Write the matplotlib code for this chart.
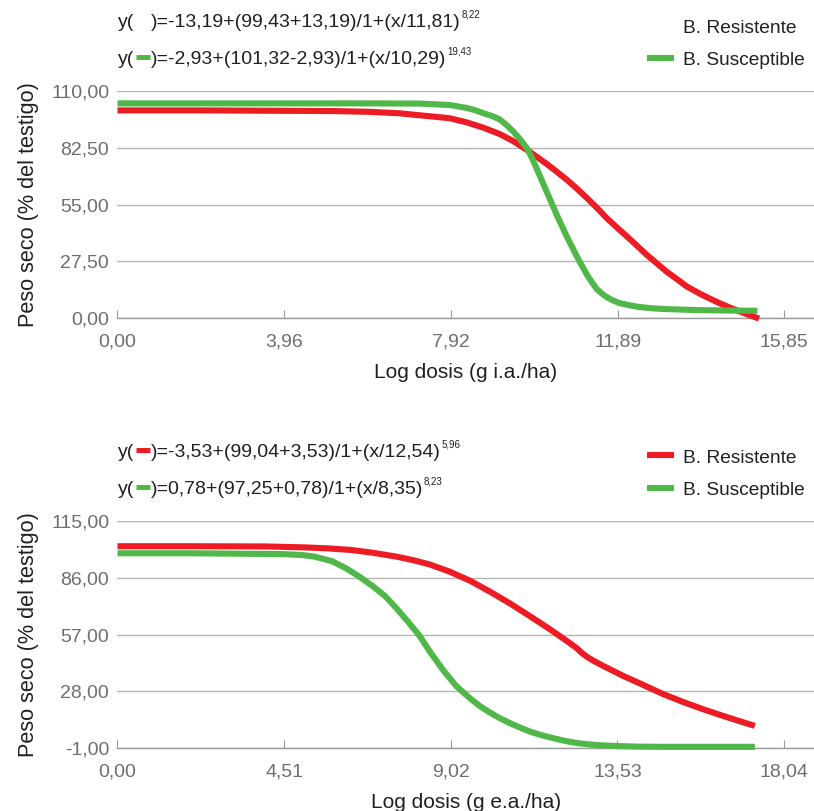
import matplotlib
matplotlib.use("Agg")
import matplotlib.pyplot as plt
from matplotlib.lines import Line2D

plt.rcParams['font.family'] = ['Liberation Sans', 'DejaVu Sans']

RED = '#ed1c24'
GREEN = '#50b848'

# ---- top panel (g i.a./ha) ----
top_x_ticks = [0.00, 3.96, 7.92, 11.89, 15.85]
top_y_ticks = [0.00, 27.50, 55.00, 82.50, 110.00]

top_res_x = [0, 2, 4, 5.1, 6.0, 6.7, 7.2, 7.9, 8.3, 8.7, 9.09, 9.4, 9.73, 9.96, 10.2,
             10.44, 10.68, 10.92, 11.16, 11.4, 11.63, 11.87, 12.11, 12.35, 12.58, 12.82,
             13.05, 13.3, 13.53, 13.85, 14.1, 14.32, 14.56, 14.8, 15.0, 15.25]
top_res_y = [100.6, 100.6, 100.4, 100.3, 99.9, 99.2, 98.2, 96.8, 94.8, 92.2, 89.1, 85.8,
             81.5, 78.2, 74.7, 70.9, 67.0, 62.7, 58.1, 53.3, 48.4, 43.9, 39.5, 35.0,
             30.6, 26.5, 22.5, 18.8, 15.3, 11.7, 9.2, 7.1, 5.0, 3.1, 1.6, -0.3]

top_sus_x = [0, 2, 4, 6, 7.2, 7.9, 8.3, 8.5, 8.7, 8.9, 9.09, 9.25, 9.41, 9.57, 9.73,
             9.85, 9.96, 10.2, 10.44, 10.68, 10.92, 11.16, 11.28, 11.39, 11.51, 11.63,
             11.78, 11.94, 12.18, 12.42, 12.7, 13.05, 13.85, 14.64, 15.21]
top_sus_y = [104.0, 104.0, 104.0, 104.0, 103.9, 103.2, 101.8, 100.7, 99.2, 97.9, 96.2,
             93.5, 90.3, 86.6, 82.3, 77.6, 72.6, 61.3, 50.0, 39.5, 29.8, 20.9, 17.2,
             14.1, 11.9, 10.1, 8.5, 7.2, 6.1, 5.3, 4.7, 4.3, 3.8, 3.6, 3.5]

# ---- bottom panel (g e.a./ha) ----
bot_x_ticks = [0.00, 4.51, 9.02, 13.53, 18.04]
bot_y_ticks = [-1.00, 28.00, 57.00, 86.00, 115.00]

bot_res_x = [0, 2, 4, 5.09, 5.7, 6.32, 6.9, 7.55, 8.0, 8.45, 8.99, 9.54, 10.08, 10.62,
             11.16, 11.71, 12.25, 12.43, 12.56, 12.7, 12.88, 13.15, 13.69, 14.23, 14.76,
             15.31, 15.85, 16.39, 16.8, 17.25]
bot_res_y = [102.1, 102.1, 102.0, 101.5, 101.0, 100.2, 98.8, 96.8, 95.0, 92.8, 89.1,
             84.5, 78.9, 72.9, 66.4, 59.6, 52.5, 50.0, 47.7, 45.7, 43.6, 40.9, 35.8,
             31.2, 26.6, 22.5, 18.8, 15.4, 12.9, 10.3]

bot_sus_x = [0, 2, 4.47, 5.0, 5.33, 5.8, 6.19, 6.55, 6.93, 7.25, 7.55, 7.85, 8.16, 8.45,
             8.81, 9.18, 9.54, 9.8, 10.08, 10.35, 10.62, 10.9, 11.16, 11.43, 11.71, 12.0,
             12.25, 12.5, 12.79, 13.15, 13.5, 14.1, 14.76, 17.25]
bot_sus_y = [98.5, 98.5, 98.1, 97.6, 96.8, 94.5, 90.8, 86.5, 81.4, 76.5, 70.4, 63.8,
             56.7, 48.4, 38.9, 30.4, 24.4, 20.5, 17.1, 14.2, 11.7, 9.4, 7.4, 5.8, 4.4,
             3.1, 2.1, 1.4, 0.8, 0.3, 0.0, -0.3, -0.4, -0.4]

top_eq = [('y(', None), ('swatch', None), (')=-13,19+(99,43+13,19)/1+(x/11,81)', '8,22')]
top_eq2 = [('y(', None), ('swatch', GREEN), (')=-2,93+(101,32-2,93)/1+(x/10,29)', '19,43')]
bot_eq = [('y(', None), ('swatch', RED), (')=-3,53+(99,04+3,53)/1+(x/12,54)', '5,96')]
bot_eq2 = [('y(', None), ('swatch', GREEN), (')=0,78+(97,25+0,78)/1+(x/8,35)', '8,23')]

W, H = 814, 811
fig = plt.figure(figsize=(W / 100, H / 100), dpi=100)
renderer = fig.canvas.get_renderer()


def fx(px):
    return px / W


def fy(py):
    return 1 - py / H


def fmt(v):
    return f'{v:.2f}'.replace('.', ',')


def panel(top_px, xticks, yticks, xmax, xlabel, series):
    bottom_px = top_px + 227
    ax = fig.add_axes([fx(117.5), fy(bottom_px), 1 - fx(117.5), (bottom_px - top_px) / H])
    for xs, ys, c in series:
        ax.plot(xs, ys, color=c, lw=4.4, solid_capstyle='butt', solid_joinstyle='round',
                clip_on=False, zorder=3)
    ax.set_xlim(0, xmax)
    ax.set_ylim(yticks[0], yticks[-1])
    ax.set_xticks(xticks)
    ax.set_xticklabels([fmt(v) for v in xticks])
    ax.set_yticks(yticks)
    ax.set_yticklabels([fmt(v) for v in yticks])
    ax.grid(axis='y', color='#b4b4b4', lw=1.0)
    ax.set_axisbelow(True)
    for s in ['top', 'right', 'left']:
        ax.spines[s].set_visible(False)
    ax.spines['bottom'].set_color('#9a9a9a')
    ax.spines['bottom'].set_linewidth(1.0)
    ax.tick_params(axis='x', direction='in', length=6, width=0.8, color='#9a9a9a',
                   labelsize=14, labelcolor='#6e6e6e', pad=11)
    ax.tick_params(axis='y', length=0, labelsize=14, labelcolor='#6e6e6e', pad=6)
    ax.set_xlabel(xlabel, fontsize=15, color='#231f20', labelpad=9)
    ax.set_ylabel('Peso seco (% del testigo)', fontsize=15.6, color='#231f20', labelpad=9)
    return ax


def equation(x_px, base_px, parts):
    x = x_px
    for text, extra in parts:
        if text == 'swatch':
            if extra is not None:
                fig.add_artist(Line2D([fx(x + 1), fx(x + 15)], [fy(base_px - 7.5)] * 2,
                                      color=extra, lw=3.6, solid_capstyle='butt'))
            x += 16
            continue
        t = fig.text(fx(x), fy(base_px), text, fontsize=14, color='#231f20', va='baseline')
        x = t.get_window_extent(renderer).x1
        if extra:
            s = fig.text(fx(x + 1), fy(base_px - 9.5), extra, fontsize=7, color='#231f20',
                         va='baseline')
            x = s.get_window_extent(renderer).x1


def legend_row(base_px, label, color):
    if color is not None:
        fig.add_artist(Line2D([fx(646.5), fx(674)], [fy(base_px - 7.3)] * 2, color=color,
                              lw=4.4, solid_capstyle='butt'))
    fig.text(fx(683), fy(base_px), label, fontsize=13.8, color='#231f20', va='baseline')


panel(91, top_x_ticks, top_y_ticks, 16.556, 'Log dosis (g i.a./ha)',
      [(top_res_x, top_res_y, RED), (top_sus_x, top_sus_y, GREEN)])
panel(521, bot_x_ticks, bot_y_ticks, 18.85, 'Log dosis (g e.a./ha)',
      [(bot_res_x, bot_res_y, RED), (bot_sus_x, bot_sus_y, GREEN)])

equation(118.3, 27.3, top_eq)
equation(118.3, 64.3, top_eq2)
equation(118.3, 457.3, bot_eq)
equation(118.3, 494.3, bot_eq2)

# the red key of the upper panel is blank in the original
legend_row(32.7, 'B. Resistente', None)
legend_row(65, 'B. Susceptible', GREEN)
legend_row(462.7, 'B. Resistente', RED)
legend_row(495, 'B. Susceptible', GREEN)

fig.savefig('out.png', dpi=100)
